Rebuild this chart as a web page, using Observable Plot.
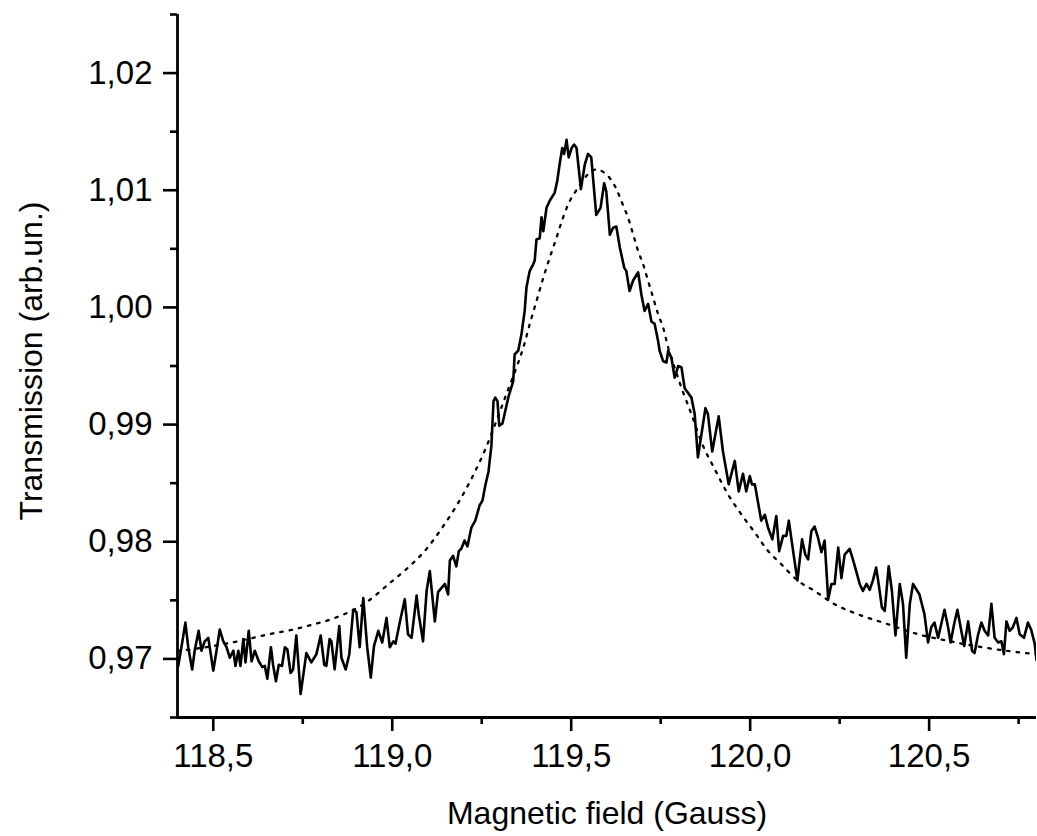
<!DOCTYPE html>
<html>
<head>
<meta charset="utf-8">
<script src="https://cdn.jsdelivr.net/npm/d3@7"></script>
<script src="https://cdn.jsdelivr.net/npm/@observablehq/plot@0.6"></script>
<style>
  html, body { margin: 0; padding: 0; background: #fff; }
  #chart { width: 1037px; height: 836px; }
</style>
</head>
<body>
<div id="chart"></div>
<script>
// Measured signal: magnetic field (Gauss) and transmission (arb. un.)
const field = [
  118.400,118.402,118.411,118.422,118.430,118.441,118.448,118.459,118.467,118.476,118.486,118.500,118.509,118.518,118.528,118.537,118.546,118.556,118.562,118.570,
  118.576,118.584,118.590,118.599,118.607,118.616,118.627,118.637,118.644,118.651,118.661,118.667,118.675,118.683,118.692,118.700,118.707,118.716,118.723,118.732,
  118.744,118.760,118.774,118.788,118.800,118.810,118.816,118.825,118.830,118.839,118.852,118.858,118.870,118.880,118.891,118.900,118.909,118.919,118.930,118.940,
  118.949,118.961,118.972,118.984,118.993,119.003,119.009,119.021,119.035,119.044,119.054,119.068,119.074,119.086,119.096,119.105,119.119,119.128,119.147,119.156,
  119.161,119.170,119.179,119.186,119.193,119.202,119.210,119.221,119.232,119.244,119.252,119.260,119.269,119.277,119.283,119.288,119.294,119.299,119.308,119.316,
  119.325,119.338,119.342,119.352,119.361,119.370,119.375,119.384,119.394,119.398,119.403,119.412,119.417,119.422,119.426,119.431,119.440,119.454,119.461,119.468,
  119.475,119.480,119.487,119.493,119.501,119.508,119.515,119.527,119.538,119.547,119.556,119.570,119.582,119.592,119.598,119.608,119.617,119.626,119.636,119.648,
  119.654,119.663,119.673,119.687,119.696,119.705,119.715,119.724,119.733,119.743,119.747,119.757,119.766,119.771,119.780,119.789,119.799,119.808,119.817,119.836,
  119.845,119.854,119.864,119.875,119.882,119.894,119.912,119.924,119.940,119.957,119.968,119.980,119.989,119.999,120.005,120.013,120.031,120.041,120.050,120.062,
  120.073,120.081,120.092,120.101,120.108,120.120,120.132,120.145,120.154,120.162,120.171,120.180,120.190,120.199,120.208,120.218,120.227,120.236,120.246,120.255,
  120.264,120.278,120.287,120.297,120.306,120.315,120.325,120.334,120.343,120.352,120.359,120.368,120.376,120.387,120.396,120.406,120.418,120.427,120.436,120.446,
  120.455,120.473,120.487,120.497,120.506,120.515,120.525,120.534,120.543,120.553,120.560,120.570,120.579,120.588,120.598,120.609,120.620,120.627,120.637,120.646,
  120.655,120.665,120.674,120.683,120.693,120.702,120.709,120.716,120.725,120.734,120.744,120.753,120.765,120.776,120.785,120.795,120.800
];
const transmission = [
  0.9700,0.9694,0.9710,0.9731,0.9710,0.9691,0.9707,0.9724,0.9707,0.9715,0.9718,0.9690,0.9707,0.9725,0.9715,0.9710,0.9701,0.9707,0.9694,0.9707,
  0.9694,0.9717,0.9697,0.9724,0.9698,0.9707,0.9698,0.9693,0.9694,0.9683,0.9710,0.9695,0.9681,0.9695,0.9694,0.9710,0.9708,0.9688,0.9691,0.9720,
  0.9670,0.9705,0.9697,0.9704,0.9720,0.9695,0.9694,0.9717,0.9715,0.9691,0.9728,0.9701,0.9691,0.9704,0.9742,0.9740,0.9710,0.9752,0.9710,0.9684,
  0.9711,0.9724,0.9714,0.9735,0.9710,0.9715,0.9713,0.9731,0.9751,0.9721,0.9718,0.9754,0.9738,0.9715,0.9758,0.9775,0.9732,0.9757,0.9764,0.9755,
  0.9784,0.9788,0.9779,0.9792,0.9794,0.9801,0.9796,0.9812,0.9818,0.9831,0.9835,0.9848,0.9860,0.9882,0.9920,0.9923,0.9920,0.9899,0.9901,0.9912,
  0.9924,0.9937,0.9960,0.9963,0.9977,0.9997,1.0017,1.0031,1.0037,1.0040,1.0058,1.0059,1.0077,1.0065,1.0074,1.0085,1.0091,1.0098,1.0108,1.0123,
  1.0136,1.0131,1.0143,1.0128,1.0136,1.0139,1.0136,1.0101,1.0122,1.0131,1.0128,1.0079,1.0085,1.0106,1.0099,1.0062,1.0068,1.0069,1.0051,1.0034,
  1.0031,1.0014,1.0023,1.0030,1.0011,0.9997,1.0003,0.9988,0.9986,0.9971,0.9963,0.9954,0.9953,0.9963,0.9957,0.9940,0.9950,0.9949,0.9931,0.9923,
  0.9909,0.9872,0.9892,0.9914,0.9909,0.9877,0.9907,0.9877,0.9849,0.9869,0.9843,0.9858,0.9843,0.9856,0.9849,0.9849,0.9818,0.9823,0.9812,0.9802,
  0.9822,0.9792,0.9805,0.9805,0.9818,0.9792,0.9767,0.9802,0.9789,0.9785,0.9809,0.9813,0.9803,0.9791,0.9801,0.9751,0.9764,0.9764,0.9795,0.9769,
  0.9789,0.9794,0.9785,0.9774,0.9764,0.9758,0.9764,0.9759,0.9767,0.9778,0.9764,0.9744,0.9741,0.9779,0.9758,0.9720,0.9764,0.9747,0.9701,0.9747,
  0.9764,0.9755,0.9738,0.9714,0.9727,0.9731,0.9718,0.9730,0.9742,0.9727,0.9714,0.9730,0.9742,0.9727,0.9711,0.9732,0.9707,0.9705,0.9721,0.9731,
  0.9724,0.9720,0.9747,0.9718,0.9714,0.9715,0.9704,0.9732,0.9724,0.9727,0.9735,0.9721,0.9718,0.9731,0.9725,0.9713,0.9699
];

// Fitted curve (dotted)
const fitField = [
  118.400,118.467,118.551,118.607,118.663,118.718,118.774,118.830,118.886,118.933,118.989,119.044,119.091,119.137,119.179,119.221,119.258,119.291,119.319,119.347,
  119.366,119.384,119.403,119.422,119.440,119.459,119.477,119.496,119.519,119.547,119.570,119.598,119.622,119.640,119.659,119.673,119.687,119.701,119.715,119.729,
  119.743,119.757,119.771,119.789,119.808,119.836,119.868,119.901,119.938,119.975,120.013,120.050,120.087,120.134,120.180,120.236,120.301,120.385,120.469,120.553,
  120.627,120.720,120.800
];
const fitTrans = [
  0.97068,0.97094,0.97139,0.97177,0.97216,0.97247,0.97290,0.97339,0.97410,0.97495,0.97637,0.97779,0.97922,0.98109,0.98305,0.98536,0.98775,0.99031,0.99261,0.99486,
  0.99656,0.99856,1.00055,1.00253,1.00424,1.00595,1.00765,1.00908,1.01021,1.01136,1.01178,1.01136,1.01036,1.00908,1.00765,1.00624,1.00481,1.00368,1.00225,1.00083,
  0.99941,0.99827,0.99656,0.99486,0.99315,0.99088,0.98820,0.98620,0.98405,0.98235,0.98078,0.97922,0.97808,0.97666,0.97580,0.97467,0.97381,0.97296,0.97211,0.97154,
  0.97111,0.97068,0.97040
];

const xMajor = [118.5, 119.0, 119.5, 120.0, 120.5];
const xMinor = [118.75, 119.25, 119.75, 120.25, 120.75];
const yMajor = [0.97, 0.98, 0.99, 1.00, 1.01, 1.02];
const yMinor = [0.965, 0.975, 0.985, 0.995, 1.005, 1.015, 1.025];
const xTitle = "Magnetic field (Gauss)";
const yTitle = "Transmission (arb.un.)";

const measured = field.map((f, i) => ({f, t: transmission[i]}));
const fit = fitField.map((f, i) => ({f, t: fitTrans[i]}));

const commaFmt = (fmt) => (d) => d3.format(fmt)(d).replace(".", ",");
const blank = () => "";

const chart = Plot.plot({
  width: 1037,
  height: 836,
  marginLeft: 177,
  marginRight: 1,
  marginTop: 14,
  marginBottom: 119,
  style: {fontFamily: "'Liberation Sans', Arial, Helvetica, sans-serif", background: "#fff", color: "#000"},
  x: {domain: [118.4, 120.8]},
  y: {domain: [0.965, 1.025]},
  marks: [
    Plot.axisY({ticks: yMinor, tickSize: 7, tickFormat: blank, label: null, strokeWidth: 2.6}),
    Plot.axisY({ticks: yMajor, tickSize: 14, tickPadding: 11, tickFormat: commaFmt(".2f"), label: null, fontSize: 33, strokeWidth: 2.6}),
    Plot.axisX({ticks: xMinor, tickSize: 7, tickFormat: blank, label: null, strokeWidth: 2.6}),
    Plot.axisX({ticks: xMajor, tickSize: 14, tickPadding: 12, tickFormat: commaFmt(".1f"), label: null, fontSize: 33, strokeWidth: 2.6}),
    Plot.line(fit, {x: "f", y: "t", stroke: "#000", strokeWidth: 2.3, strokeDasharray: "2.5,7", curve: "catmull-rom", clip: true}),
    Plot.line(measured, {x: "f", y: "t", stroke: "#000", strokeWidth: 2.6, strokeLinejoin: "round", clip: true}),
    Plot.ruleX([118.4], {stroke: "#000", strokeWidth: 2.8}),
    Plot.ruleY([0.965], {stroke: "#000", strokeWidth: 2.8}),
    Plot.text([xTitle], {frameAnchor: "bottom", lineAnchor: "middle", textAnchor: "middle", dy: 96, fontSize: 32, fill: "#000"}),
    Plot.text([yTitle], {frameAnchor: "left", lineAnchor: "middle", textAnchor: "middle", rotate: -90, dx: -146, dy: -5, fontSize: 32, fill: "#000"})
  ]
});
document.getElementById("chart").appendChild(chart);
</script>
</body>
</html>
